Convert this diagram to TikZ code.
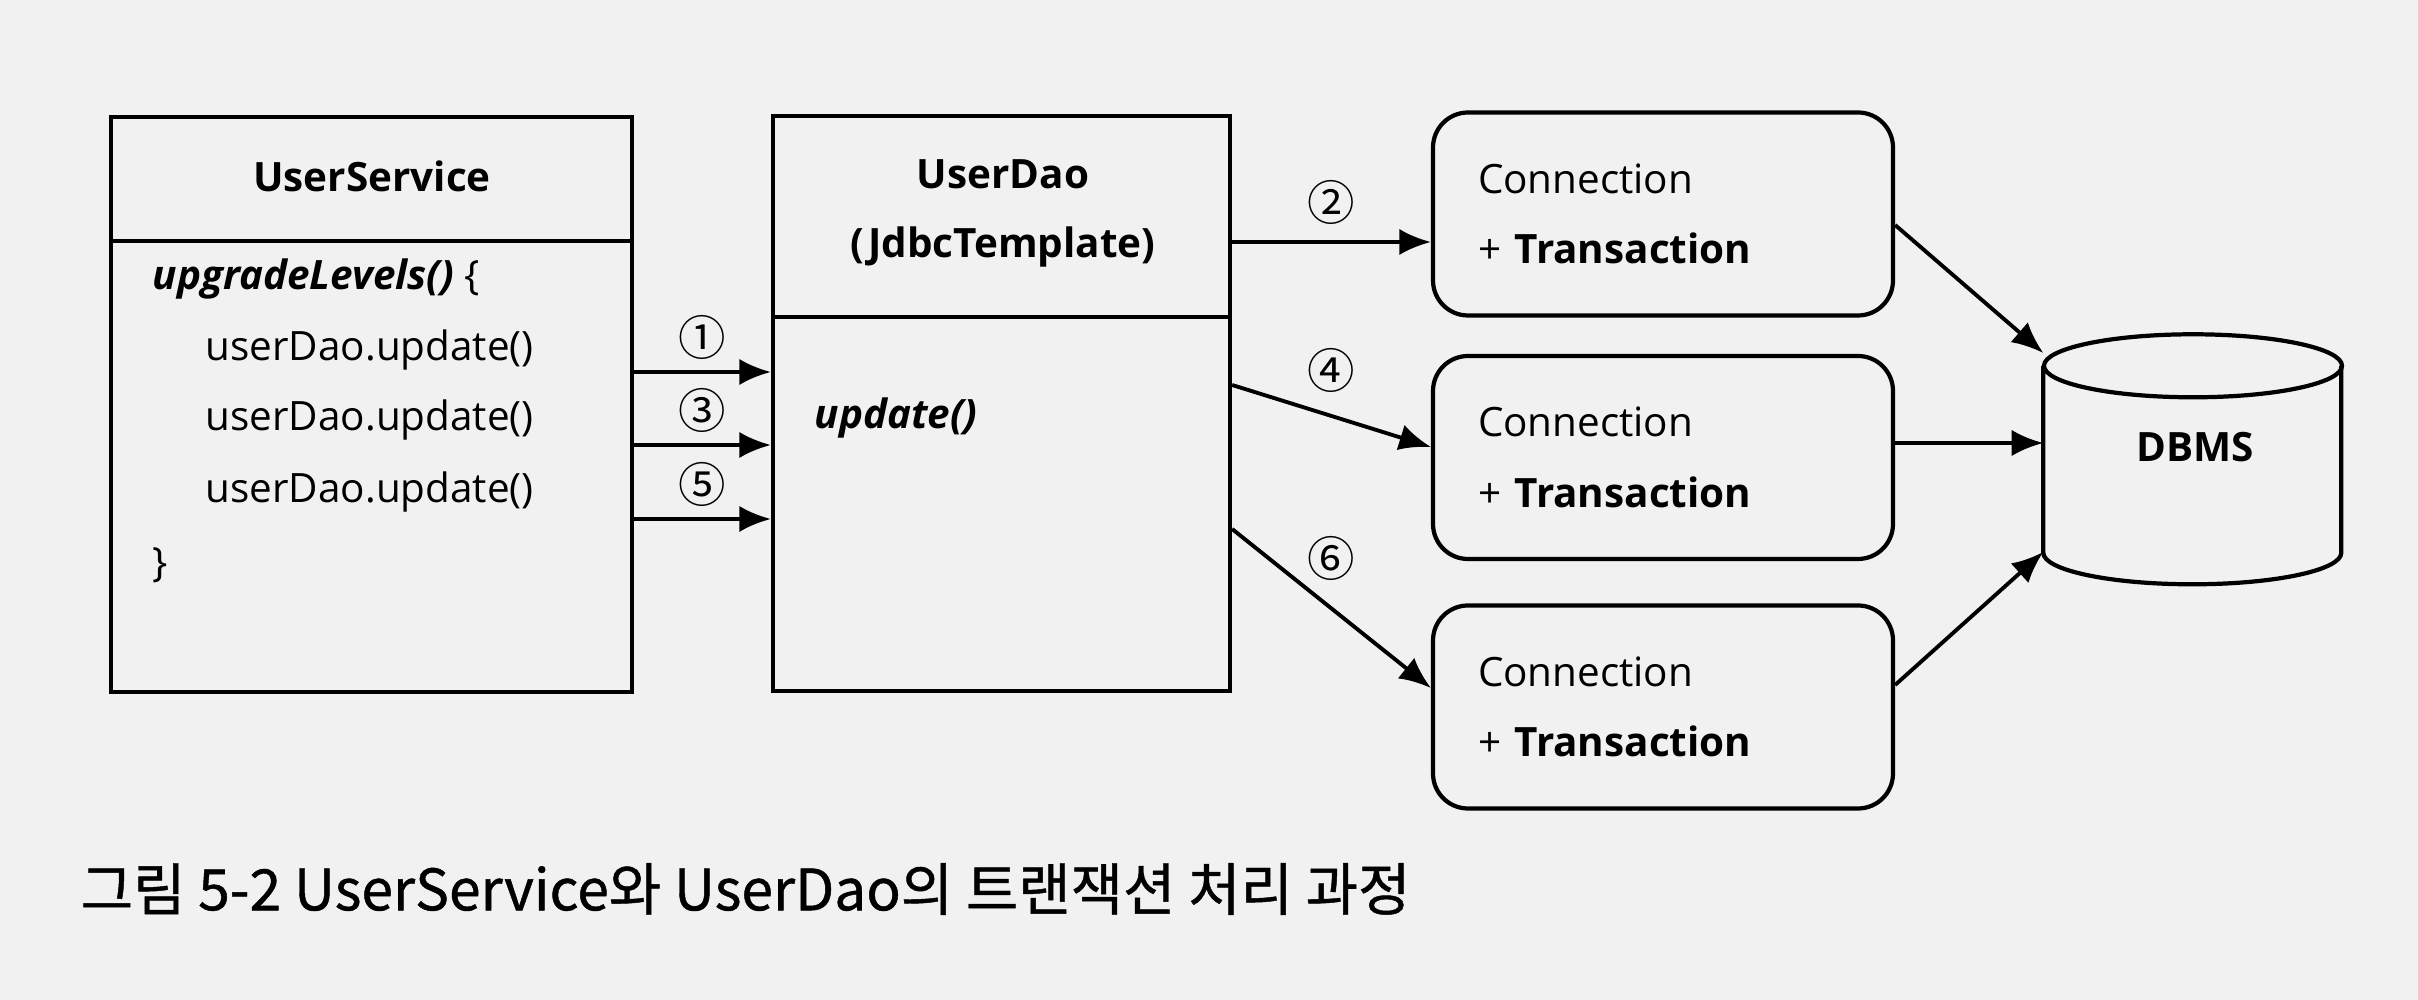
\documentclass[tikz,border=0pt]{standalone}
\usepackage{fontspec}
\setmainfont{Open Sans}
\newfontfamily\krfont{Noto Sans CJK KR}
\newfontfamily\capfont{Noto Sans CJK KR}[FakeBold=0.8]
\usetikzlibrary{arrows.meta}
\definecolor{paper}{RGB}{241,241,241}
\tikzset{
    box/.style={rectangle,draw,line width=1.2pt,minimum width=#1,minimum height=5.75cm,inner sep=0pt},
    conn/.style={rectangle,rounded corners=0.35cm,draw,line width=1.2pt,minimum height=2.03cm,text width=3.7cm,inner xsep=0.45cm,align=left,font=\fontsize{11.5}{20}\selectfont},
    dbbox/.style={rectangle,minimum width=2.98cm,minimum height=2.50cm,inner sep=0pt},
    txt/.style={inner sep=0pt,font=\fontsize{11.5}{14}\selectfont},
    num/.style={inner sep=1pt,font=\krfont\fontsize{13.5}{15}\selectfont},
    edge/.style={-{Latex[length=9pt,width=7.5pt]},line width=1.1pt}
}
\begin{document}
\begin{tikzpicture}
\path[use as bounding box,fill=paper] (0,0) rectangle (24.18,-10);

\node[box=5.21cm] (1) at (3.715,-4.045) {};
\node[box=4.57cm] (2) at (10.015,-4.035) {};
\node[conn] (3) at (16.63,-2.14) {Connection\\+ \textbf{Transaction}};
\node[conn] (4) at (16.63,-4.575) {Connection\\+ \textbf{Transaction}};
\node[conn] (5) at (16.63,-7.07) {Connection\\+ \textbf{Transaction}};
\node[dbbox] (6) at (21.93,-4.60) {};

% DBMS cylinder
\draw[line width=1.2pt] (6.north) ++(0,-0.315) ellipse [x radius=1.49cm,y radius=0.315cm];
\draw[line width=1.2pt] (6.north west) ++(0,-0.315) -- ++(0,-1.87)
    arc[start angle=180,end angle=360,x radius=1.49cm,y radius=0.315cm] -- ++(0,1.87);

\draw[line width=1.2pt] (1.west |- 0,-2.41) -- (1.east |- 0,-2.41);
\draw[line width=1.2pt] (2.west |- 0,-3.17) -- (2.east |- 0,-3.17);

\node[txt] (1t) at (3.72,-1.76) {\textbf{UserService}};
\node[txt,anchor=west] (1a) at (1.52,-2.79) {\textbf{\textit{upgradeLevels()}} \{};
\node[txt,anchor=west] (1b) at (2.05,-3.50) {userDao.update()};
\node[txt,anchor=west] (1c) at (2.05,-4.20) {userDao.update()};
\node[txt,anchor=west] (1d) at (2.05,-4.92) {userDao.update()};
\node[txt,anchor=west] (1e) at (1.52,-5.65) {\}};
\node[txt] (2t) at (10.03,-1.74) {\textbf{UserDao}};
\node[txt] (2u) at (10.03,-2.47) {\textbf{(JdbcTemplate)}};
\node[txt,anchor=west] (2a) at (8.14,-4.18) {\textbf{\textit{update()}}};
\node[txt] (6t) at (21.95,-4.47) {\textbf{DBMS}};

\draw[edge] (1.east |- 0,-3.72) -- (2.west |- 0,-3.72) node[num,midway,above=2pt] (n1) {①};
\draw[edge] (1.east |- 0,-4.45) -- (2.west |- 0,-4.45) node[num,midway,above=2pt] (n3) {③};
\draw[edge] (1.east |- 0,-5.19) -- (2.west |- 0,-5.19) node[num,midway,above=2pt] (n5) {⑤};
\draw[edge] (2.east |- 0,-2.42) -- (3.west |- 0,-2.42) node[num,midway,above=3.5pt] (n2) {②};
\draw[edge] (2.east |- 0,-3.85) -- (4.west |- 0,-4.47) node[num,midway,above=5pt] (n4) {④};
\draw[edge] (2.east |- 0,-5.29) -- (5.west |- 0,-6.88) node[num,midway,above=6.5pt] (n6) {⑥};
\draw[edge] (3.east |- 0,-2.25) -- (6.west |- 0,-3.53);
\draw[edge] (4.east |- 0,-4.43) -- (6.west |- 0,-4.43);
\draw[edge] (5.east |- 0,-6.85) -- (6.west |- 0,-5.52);

\node[anchor=west,inner sep=0pt,font=\capfont\fontsize{16.2}{18}\selectfont] (cap) at (0.80,-8.89) {그림 5-2 UserService와 UserDao의 트랜잭션 처리 과정};

\end{tikzpicture}
\end{document}
